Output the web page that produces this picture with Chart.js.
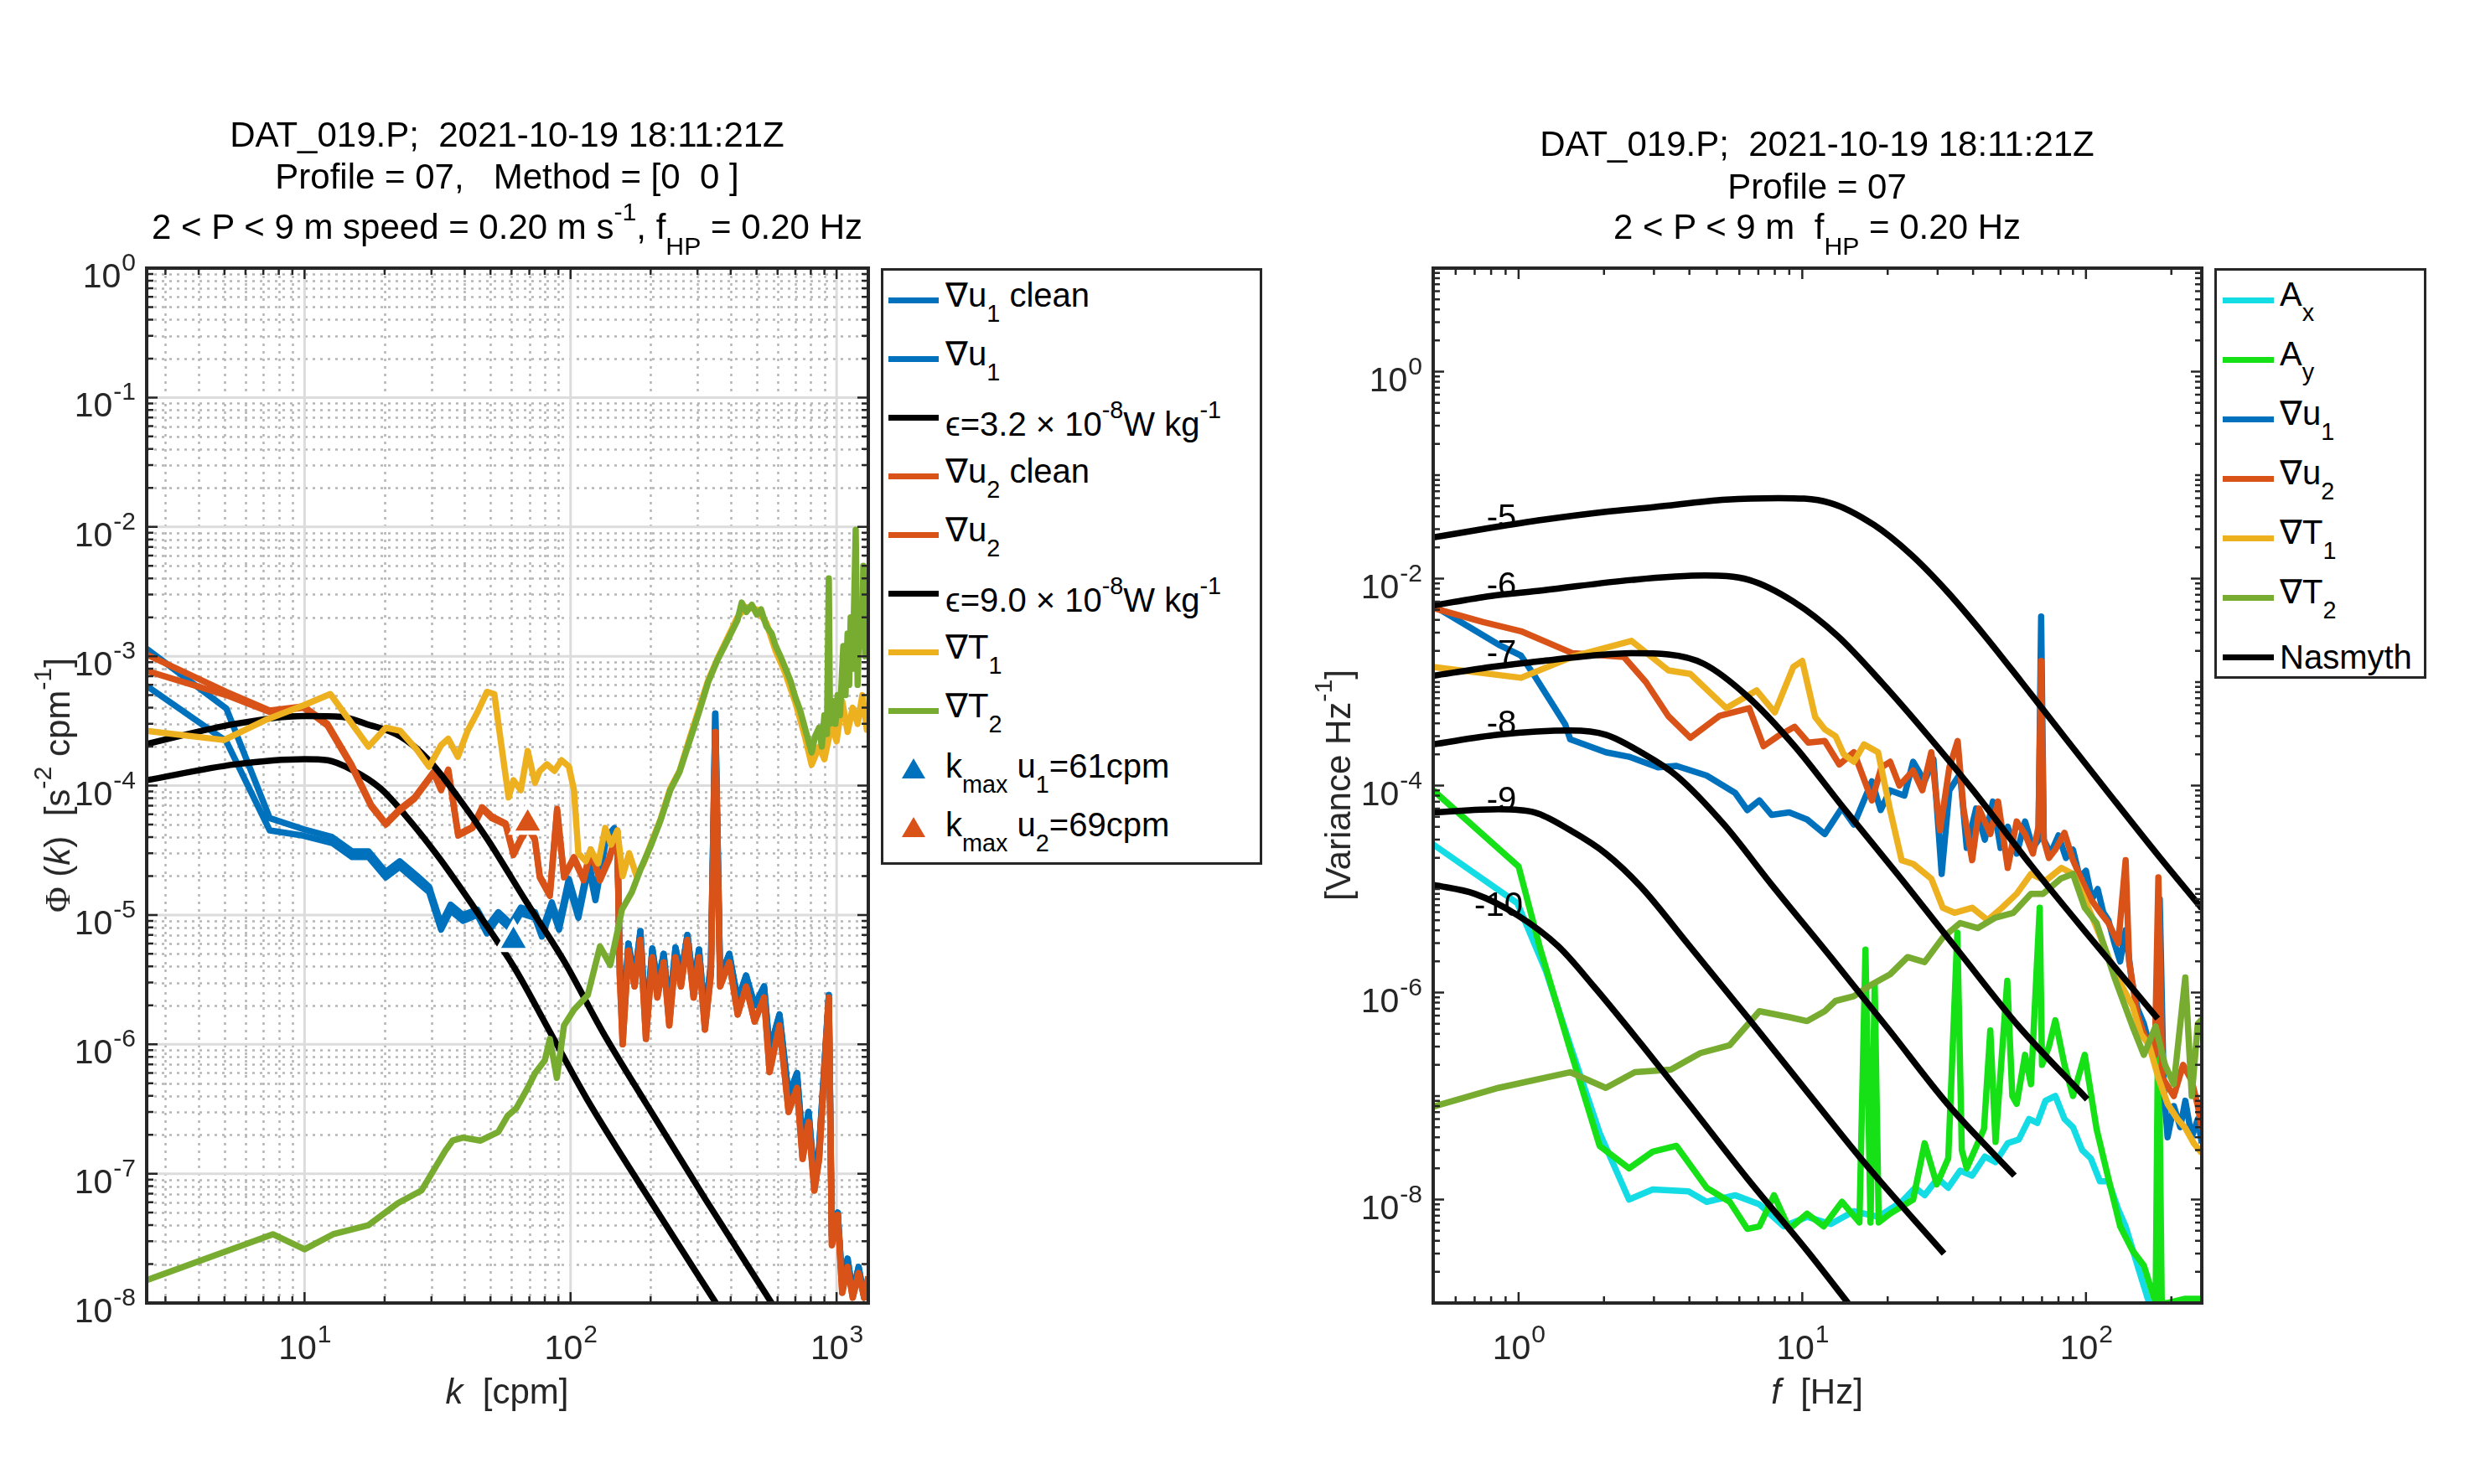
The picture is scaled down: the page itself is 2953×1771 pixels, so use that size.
<!DOCTYPE html>
<html lang="en">
<head>
<meta charset="utf-8">
<title>DAT_019.P profile 07 spectra</title>
<script src="https://cdn.jsdelivr.net/npm/chart.js@4.4.1/dist/chart.umd.min.js"></script>
<style>
  html, body { margin: 0; padding: 0; background: #fff; }
  body { position: relative; width: 2953px; height: 1771px; overflow: hidden;
         font-family: "Liberation Sans", Arial, Helvetica, sans-serif; color: #000; }
  canvas { position: absolute; top: 0; }
  #leftChart { left: 0; }
  #rightChart { left: 1560px; }
  .lbl { position: absolute; white-space: pre; line-height: 50px; height: 50px; }
  .ttl { font-size: 42px; transform: translateX(-50%); }
  .xlab { font-size: 42px; color: #262626; transform: translateX(-50%); }
  .ylab { font-size: 42px; color: #262626; transform: translate(-50%, -50%) rotate(-90deg); }
  sup, sub { font-size: 0.72em; line-height: 0; vertical-align: baseline; position: relative; }
  sup { top: -0.72em; }
  sub { top: 0.64em; }
  .phi { font-family: "Liberation Serif", "DejaVu Serif", serif; }
  .legend { position: absolute; box-sizing: border-box; border: 3px solid #262626; background: #fff; }
  .swatch { position: absolute; height: 7px; }
  .entry { position: absolute; font-size: 40px; line-height: 50px; white-space: pre; }
  .tri { position: absolute; width: 0; height: 0; border-left: 14px solid transparent;
         border-right: 14px solid transparent; border-bottom: 24px solid #000; }
</style>
</head>
<body>
<canvas id="leftChart" width="1050" height="1771" style="width:1050px;height:1771px"></canvas>
<canvas id="rightChart" width="1080" height="1771" style="width:1080px;height:1771px"></canvas>

<div class="lbl ttl" style="left:605px;top:136px">DAT_019.P;  2021-10-19 18:11:21Z</div>
<div class="lbl ttl" style="left:605px;top:186px">Profile = 07,   Method = [0  0 ]</div>
<div class="lbl ttl" style="left:605px;top:246px">2 &lt; P &lt; 9 m speed = 0.20 m s<sup>-1</sup>, f<sub>HP</sub> = 0.20 Hz</div>

<div class="lbl ttl" style="left:2168px;top:147px">DAT_019.P;  2021-10-19 18:11:21Z</div>
<div class="lbl ttl" style="left:2168px;top:198px">Profile = 07</div>
<div class="lbl ttl" style="left:2168px;top:246px">2 &lt; P &lt; 9 m  f<sub>HP</sub> = 0.20 Hz</div>

<div class="lbl xlab" style="left:605px;top:1636px"><i>k</i>  [cpm]</div>
<div class="lbl xlab" style="left:2168px;top:1636px"><i>f</i>  [Hz]</div>
<div class="lbl ylab" style="left:69px;top:937px"><span class="phi">Φ</span> (<i>k</i>)  [s<sup>-2</sup> cpm<sup>-1</sup>]</div>
<div class="lbl ylab" style="left:1597px;top:937px">[Variance Hz<sup>-1</sup>]</div>

<div id="leftLegend" class="legend"></div>
<div id="rightLegend" class="legend"></div>

<script>
// ---------- left panel: shear / temperature-gradient spectra vs wavenumber ----------
const kU1Low = [2.55, 5.08, 7.4, 9.9, 12.7, 15.1, 17.4, 20.2, 22.8, 26.5, 29.4, 32.6, 35.4, 39.4, 44.6,
  48.5, 53.5, 59.7, 65, 73.5, 78, 85, 90.5, 98.5, 107, 117, 124, 135, 146, 150];
const u1RawLow = [1.14e-3, 3.95e-4, 5.6e-5, 4.6e-5, 4.0e-5, 3.1e-5, 3.1e-5, 2.15e-5, 2.6e-5, 2.0e-5,
  1.65e-5, 8.5e-6, 1.2e-5, 1.0e-5, 1.1e-5, 8.0e-6, 1.05e-5, 8.5e-6, 1.14e-5, 1.05e-5, 7.5e-6, 1.25e-5,
  8.5e-6, 1.9e-5, 1.05e-5, 2.6e-5, 1.45e-5, 3.9e-5, 4.7e-5, 3.5e-5];
const u1CleanLow = [5.9e-4, 2.2e-4, 4.5e-5, 4.1e-5, 3.6e-5, 2.8e-5, 2.8e-5, 1.95e-5, 2.35e-5, 1.8e-5,
  1.5e-5, 7.7e-6, 1.08e-5, 9e-6, 1.0e-5, 7.2e-6, 9.5e-6, 7.7e-6, 1.03e-5, 9.5e-6, 6.8e-6, 1.13e-5,
  7.7e-6, 1.7e-5, 9.5e-6, 2.35e-5, 1.3e-5, 3.5e-5, 4.2e-5, 3.2e-5];

const kU2Low = [2.55, 5.08, 7.4, 9.9, 12.2, 15.0, 17.8, 20.2, 22.8, 25.9, 30.6, 32.6, 34.7, 37.8, 42.8,
  46.5, 50.5, 57, 61, 65, 69, 73.4, 76.6, 83.6, 89, 94.5, 103, 112, 119, 129, 140, 150];
const u2RawLow = [1.03e-3, 5.3e-4, 3.8e-4, 4.1e-4, 3.0e-4, 1.46e-4, 7.1e-5, 5.1e-5, 6.6e-5, 8.1e-5,
  1.28e-4, 9.5e-5, 1.33e-4, 4.2e-5, 4.8e-5, 6.8e-5, 5.8e-5, 5.1e-5, 3.0e-5, 3.9e-5, 4.8e-5, 3.9e-5,
  2.0e-5, 1.45e-5, 6.6e-5, 2.0e-5, 2.8e-5, 1.9e-5, 3.2e-5, 1.9e-5, 2.8e-5, 4.5e-5];
const u2CleanLow = [7.7e-4, 5.0e-4, 3.7e-4, 4.0e-4, 2.9e-4, 1.42e-4, 6.9e-5, 5.0e-5, 6.4e-5, 7.9e-5,
  1.25e-4, 9.2e-5, 1.3e-4, 4.1e-5, 4.7e-5, 6.6e-5, 5.6e-5, 5.0e-5, 2.9e-5, 3.8e-5, 4.7e-5, 3.8e-5,
  1.95e-5, 1.4e-5, 6.4e-5, 1.95e-5, 2.7e-5, 1.85e-5, 3.1e-5, 1.85e-5, 2.7e-5, 4.4e-5];

// high wavenumber part, where clean and raw spectra lie on top of each other
const kTail = [153, 157, 165, 174, 183, 192, 203, 212, 224, 235, 248, 260, 275, 290, 304, 320, 337,
  350, 365, 395, 425, 457, 492, 534, 560, 610, 660, 710, 745, 785, 825, 860, 935, 960, 1010, 1050,
  1100, 1150, 1210, 1270, 1316];
const u1Tail = [4.5e-6, 1.3e-6, 6e-6, 3.2e-6, 7.5e-6, 1.4e-6, 5.5e-6, 2.9e-6, 5e-6, 1.8e-6, 5.6e-6,
  3.4e-6, 7e-6, 2.8e-6, 5.4e-6, 1.6e-6, 4.2e-6, 3.6e-4, 3.3e-6, 5e-6, 2.2e-6, 3.4e-6, 2.0e-6, 2.8e-6,
  9e-7, 1.7e-6, 4e-7, 6e-7, 1.7e-7, 3e-7, 9e-8, 1.6e-7, 2.4e-6, 3.3e-8, 5e-8, 1.4e-8, 2.2e-8, 1.2e-8,
  1.9e-8, 1.1e-8, 1.5e-8];
const u2Tail = [3.5e-6, 1.0e-6, 5.3e-6, 2.8e-6, 6.4e-6, 1.1e-6, 4.7e-6, 2.3e-6, 4.3e-6, 1.4e-6, 4.7e-6,
  2.8e-6, 6.4e-6, 2.3e-6, 4.7e-6, 1.3e-6, 3.5e-6, 2.6e-4, 2.8e-6, 4.3e-6, 1.7e-6, 2.8e-6, 1.5e-6, 2.3e-6,
  6.1e-7, 1.4e-6, 3e-7, 4.6e-7, 1.3e-7, 2.5e-7, 7.4e-8, 1.3e-7, 2.3e-6, 2.8e-8, 4.8e-8, 1.2e-8, 1.9e-8,
  1.1e-8, 1.7e-8, 1.1e-8, 1.6e-8];

const kT1 = [2.55, 4.98, 7.1, 10, 12.5, 17.4, 20.2, 22.9, 26.4, 29.4, 32.6, 34.7, 37.7, 41, 44.7, 48.5,
  51.7, 53.8, 58.5, 61, 65, 69, 73.5, 76.6, 81.5, 87, 92.5, 98.6, 103, 107, 114, 119, 127, 135, 142, 150,
  157, 166, 177, 188, 200, 218, 237, 257, 280, 304, 329, 357, 387, 424, 458, 502, 545, 590, 640, 700,
  760, 806, 860, 900, 960, 1000, 1050, 1100, 1150, 1200, 1250, 1300, 1316];
const t1Spec = [2.65e-4, 2.25e-4, 3.2e-4, 4.2e-4, 5.1e-4, 2.0e-4, 2.8e-4, 2.65e-4, 1.9e-4, 1.4e-4,
  2.05e-4, 2.3e-4, 1.67e-4, 2.65e-4, 3.7e-4, 5.3e-4, 5.1e-4, 2.8e-4, 8.1e-5, 1.1e-4, 9.2e-5, 1.85e-4,
  1.05e-4, 1.3e-4, 1.46e-4, 1.3e-4, 1.57e-4, 1.4e-4, 9.2e-5, 3.0e-5, 2.6e-5, 3.2e-5, 2.5e-5, 4.7e-5,
  3.5e-5, 4.5e-5, 2.0e-5, 3.0e-5, 2.0e-5, 2.5e-5, 3.5e-5, 5.5e-5, 9.5e-5, 1.3e-4, 2.3e-4, 3.9e-4,
  6.5e-4, 9.6e-4, 1.35e-3, 2.0e-3, 2.4e-3, 2.3e-3, 1.8e-3, 1.1e-3, 7.5e-4, 4.4e-4, 2.4e-4, 1.45e-4,
  2.0e-4, 1.6e-4, 3.0e-4, 2.2e-4, 4.5e-4, 2.6e-4, 4.0e-4, 3.0e-4, 5.0e-4, 2.7e-4, 3.0e-4];

const kT2 = [2.55, 7.6, 10, 12.8, 17.4, 22.4, 27.5, 33.8, 36, 39.4, 45.9, 53.5, 58, 62.5, 69, 73.6, 80,
  83.6, 88.8, 94.5, 103, 116, 129, 141, 150, 156, 170, 184, 200, 218, 237, 257, 280, 304, 329, 357, 387,
  424, 440, 458, 480, 502, 520, 545, 570, 590, 615, 640, 670, 700, 730, 760, 785, 806, 830, 860, 880,
  900, 920, 935, 945, 970, 990, 1010, 1030, 1060, 1080, 1100, 1115, 1130, 1150, 1180, 1200, 1220, 1250,
  1260, 1280, 1300, 1316];
const t2Spec = [1.5e-8, 3.4e-8, 2.6e-8, 3.4e-8, 4e-8, 5.9e-8, 7.4e-8, 1.5e-7, 1.8e-7, 1.9e-7, 1.8e-7,
  2.1e-7, 2.8e-7, 3.2e-7, 4.6e-7, 6e-7, 7.5e-7, 1.1e-6, 5.5e-7, 1.4e-6, 1.85e-6, 2.4e-6, 5.7e-6, 4.1e-6,
  7.4e-6, 1.1e-5, 1.5e-5, 2.3e-5, 3.4e-5, 5.4e-5, 9.2e-5, 1.28e-4, 2.2e-4, 3.7e-4, 6.3e-4, 9.4e-4,
  1.3e-3, 1.9e-3, 2.6e-3, 2.2e-3, 2.5e-3, 2.1e-3, 2.3e-3, 1.7e-3, 1.5e-3, 1.2e-3, 1.0e-3, 8.2e-4,
  6.5e-4, 4.8e-4, 3.8e-4, 2.8e-4, 2.2e-4, 1.8e-4, 2.4e-4, 2.8e-4, 2.0e-4, 3.5e-4, 2.5e-4, 4e-3, 3e-4,
  4.5e-4, 3e-4, 5e-4, 3.5e-4, 1.2e-3, 5e-4, 1.5e-3, 6e-4, 2e-3, 8e-4, 9.5e-3, 6e-4, 2.5e-3, 1.2e-3,
  5e-3, 1e-3, 2e-3, 1.5e-3];

// Nasmyth reference spectra
const kEps32 = [2.55, 5.5, 10, 12.2, 15, 19.3, 24.8, 31.9, 44.6, 62, 83.6, 115, 192, 352];
const eps32Spec = [1.1e-4, 1.46e-4, 1.6e-4, 1.57e-4, 1.33e-4, 9.5e-5, 5.4e-5, 2.8e-5, 1.05e-5, 3.8e-6,
  1.25e-6, 3.8e-7, 7e-8, 1e-8];
const kEps90 = [2.55, 5.5, 10, 13.8, 17, 22.9, 29.4, 37.8, 48.5, 67.6, 94.5, 132, 192, 322, 570];
const eps90Spec = [2.1e-4, 3.0e-4, 3.45e-4, 3.4e-4, 3.0e-4, 2.4e-4, 1.56e-4, 8.1e-5, 3.9e-5, 1.3e-5,
  4.4e-6, 1.25e-6, 3.5e-7, 6.3e-8, 1e-8];

const kMax = [61, 69];
const kMaxLevel = [6.3e-6, 5.1e-5];

// ---------- right panel: frequency spectra ----------
const fAx = [0.5, 0.99, 1.25, 1.52, 1.93, 2.45, 2.97, 3.97, 4.6, 5.8, 7.06, 8.6, 10.4, 12.6, 15.2, 18.5,
  22.4, 25, 27, 30, 32.7, 36, 39.7, 44, 48, 53, 58, 63, 67.4, 72, 78, 84, 90, 97, 104, 112, 120, 130,
  138, 152, 167, 180];
const axSpec = [2.7e-5, 7.3e-6, 1.6e-6, 3.1e-7, 4.4e-8, 1e-8, 1.25e-8, 1.2e-8, 9.5e-9, 1.1e-8, 9e-9,
  5.5e-9, 6.8e-9, 5.8e-9, 7.7e-9, 6.8e-9, 9.5e-9, 1.3e-8, 1.1e-8, 1.6e-8, 1.3e-8, 1.9e-8, 1.7e-8,
  2.6e-8, 2.3e-8, 3.5e-8, 3.8e-8, 6e-8, 5.5e-8, 9e-8, 1e-7, 6e-8, 5e-8, 3e-8, 2.5e-8, 1.5e-8, 1.5e-8,
  8e-9, 5.5e-9, 2.3e-9, 1e-9, 6e-10];

const fAy = [0.5, 1.0, 1.19, 1.52, 1.93, 2.45, 2.97, 3.6, 4.6, 5.55, 6.4, 7.06, 7.95, 9, 10.4, 11.9,
  13.8, 15.9, 16.7, 17.4, 18, 18.6, 20.4, 24.6, 27, 29.8, 32.7, 35.2, 36.5, 38, 43.7, 46, 48, 52.8, 55,
  57, 61, 64, 68.7, 70, 74, 78, 84, 90, 99, 109, 120, 132, 146, 160, 176, 180, 185, 194, 224, 256];
const aySpec = [9e-5, 1.65e-5, 2.7e-6, 2.8e-7, 3.3e-8, 2e-8, 2.9e-8, 3.3e-8, 1.3e-8, 9.5e-9, 5.2e-9,
  5.5e-9, 1.1e-8, 5.2e-9, 7.3e-9, 5.5e-9, 9.5e-9, 6e-9, 2.6e-6, 6e-9, 1.2e-6, 6e-9, 7.3e-9, 1e-8,
  3.5e-8, 1.4e-8, 2.5e-8, 3.8e-6, 3e-8, 2e-8, 4.8e-8, 4.3e-7, 3.6e-8, 1.3e-6, 1e-7, 8.4e-8, 2.5e-7,
  1.3e-7, 6.6e-6, 2e-7, 3e-7, 5.4e-7, 2e-7, 1e-7, 2.5e-7, 4.8e-8, 1.6e-8, 5.5e-9, 3.2e-9, 2.3e-9, 1e-9,
  9.3e-7, 1e-9, 1e-9, 1.1e-9, 1.1e-9];

const fU1 = [0.5, 0.85, 1.02, 1.15, 1.46, 1.52, 2.03, 2.45, 3.1, 3.6, 4.6, 5.8, 6.4, 7.06, 7.8, 9, 10.4,
  12, 13.8, 15.2, 17.6, 18.9, 20.4, 22.9, 24.6, 27, 29, 31, 33, 36, 38, 41, 44, 47, 50, 53, 57, 61, 65,
  68, 69.5, 71, 75, 80, 85, 90, 95, 100, 105, 110, 115, 120, 126, 132, 138, 145, 152, 160, 168, 175,
  182, 188, 194, 204, 215, 224, 236, 248, 256];
const gradU1 = [5.5e-3, 2.3e-3, 1.8e-3, 1.1e-3, 3.9e-4, 2.8e-4, 2.1e-4, 1.9e-4, 1.5e-4, 1.55e-4,
  1.25e-4, 8.5e-5, 5.8e-5, 7.2e-5, 5.2e-5, 5.5e-5, 4.7e-5, 3.4e-5, 6.1e-5, 4.2e-5, 1.1e-4, 5.8e-5,
  9e-5, 8e-5, 1.7e-4, 1.1e-4, 1.8e-4, 1.4e-5, 9e-5, 1.3e-4, 2.5e-5, 6e-5, 3e-5, 7e-5, 2.5e-5, 4e-5,
  2.2e-5, 4.5e-5, 2.5e-5, 3e-5, 4.3e-3, 3e-5, 2.2e-5, 3.3e-5, 2e-5, 2.4e-5, 1.3e-5, 1.5e-5, 8e-6,
  1e-5, 6e-6, 5e-6, 3e-6, 2e-6, 4e-6, 1.3e-6, 7e-7, 5e-7, 3e-7, 2.5e-7, 8e-6, 1.2e-7, 4e-8, 8e-8,
  5e-8, 9e-8, 4e-8, 6e-8, 3.5e-8];

const fU2 = [0.5, 0.75, 1.02, 1.55, 2.35, 2.81, 3.37, 4.03, 5.1, 6.5, 7.3, 8.2, 9.4, 10.5, 12, 13.5,
  15.2, 17.6, 19, 20.4, 22, 24.6, 26.5, 28.5, 30.6, 33, 35.3, 37, 39.7, 42, 46, 49, 53, 57, 61, 65, 68,
  69.5, 71, 74, 78, 84, 90, 97, 104, 112, 120, 130, 138, 142, 152, 160, 175, 180, 186, 204, 220, 236,
  248, 256];
const gradU2 = [5.2e-3, 3.8e-3, 3.1e-3, 1.9e-3, 1.75e-3, 1e-3, 4.7e-4, 2.9e-4, 4.7e-4, 5.6e-4, 2.4e-4,
  3.0e-4, 3.7e-4, 2.6e-4, 2.7e-4, 1.6e-4, 2.1e-4, 7.2e-5, 1.5e-4, 1.7e-4, 1.0e-4, 1.4e-4, 9e-5, 2.1e-4,
  3.7e-5, 1.5e-4, 2.7e-4, 6e-5, 1.9e-5, 6e-5, 3.4e-5, 7e-5, 1.6e-5, 4.5e-5, 3.4e-5, 2.2e-5, 4e-5,
  1.6e-3, 3e-5, 2e-5, 2.4e-5, 3.5e-5, 1.9e-5, 1.2e-5, 8e-6, 6e-6, 4.7e-6, 3e-6, 1.9e-5, 2e-6, 6e-7,
  4e-7, 2.5e-7, 1.3e-5, 1.5e-7, 1e-7, 2e-7, 1.4e-7, 8e-8, 4.8e-8];

const fT1 = [0.5, 1.02, 1.55, 2.5, 3.37, 4.03, 5.4, 6.9, 8.0, 9.3, 10, 11.1, 12, 13.1, 14, 15.2, 16.5,
  18.5, 20.4, 22.4, 24.6, 28.5, 31.3, 34.4, 39.7, 45, 50.6, 57, 64, 72, 82, 90, 99, 110, 120, 133, 146,
  156, 167, 180, 194, 210, 224, 240, 256];
const gradT1 = [1.4e-3, 1.1e-3, 1.76e-3, 2.5e-3, 1.3e-3, 1.2e-3, 5.6e-4, 8.3e-4, 5.1e-4, 1.4e-3,
  1.6e-3, 4.6e-4, 3.5e-4, 3e-4, 2e-4, 1.7e-4, 2.5e-4, 2.1e-4, 5.8e-5, 1.9e-5, 1.75e-5, 1.26e-5, 6.6e-6,
  5.9e-6, 6.6e-6, 5e-6, 6.6e-6, 9e-6, 1.4e-5, 1.2e-5, 1.6e-5, 1.4e-5, 8e-6, 4e-6, 2.2e-6, 1.2e-6,
  7.4e-7, 4e-7, 3.1e-7, 1.5e-7, 8.4e-8, 6e-8, 4.9e-8, 3.5e-8, 2.8e-8];

const fT2 = [0.5, 0.85, 1.52, 2.03, 2.57, 3.44, 4.37, 5.55, 7.06, 8.97, 10.4, 12.0, 13.1, 15.2, 17.6,
  20.4, 23.5, 27, 31.3, 36, 41.6, 48, 55.5, 64, 70.6, 81.5, 90, 99, 109, 126, 146, 160, 176, 190, 204,
  224, 236, 248, 256];
const gradT2 = [7.9e-8, 1.2e-7, 1.7e-7, 1.2e-7, 1.7e-7, 1.8e-7, 2.6e-7, 3.1e-7, 6.6e-7, 5.8e-7, 5.3e-7,
  6.6e-7, 8.3e-7, 9.2e-7, 1.2e-6, 1.5e-6, 2.2e-6, 1.97e-6, 3.4e-6, 4.7e-6, 4.2e-6, 5.3e-6, 5.9e-6, 9e-6,
  9e-6, 1.26e-5, 1.4e-5, 6.6e-6, 4.7e-6, 1.4e-6, 4.7e-7, 2.5e-7, 4.7e-7, 2e-7, 1.3e-7, 1.4e-6, 1e-7,
  5e-7, 5.5e-7];

// Nasmyth curves for log10(epsilon) = -5 ... -10
const fN5 = [0.5, 0.8, 1.22, 2, 2.99, 5.4, 8.26, 12.5, 17.9, 24.2, 32.7, 44, 59.3, 80, 120, 180, 256];
const nas5 = [0.025, 0.031, 0.037, 0.044, 0.049, 0.058, 0.060, 0.054, 0.033, 0.017, 7.3e-3, 2.8e-3,
  1e-3, 3.5e-4, 8.5e-5, 2.1e-5, 6.5e-6];
const fN6 = [0.5, 0.8, 1.22, 2.5, 4.54, 6.5, 9.3, 13.3, 19, 27.3, 40, 64, 100, 179];
const nas6 = [5.5e-3, 6.8e-3, 7.7e-3, 9.7e-3, 0.0107, 9.7e-3, 6.0e-3, 2.8e-3, 1e-3, 3.2e-4, 9e-5,
  1.7e-5, 3.8e-6, 5.6e-7];
const fN7 = [0.5, 0.8, 1.22, 1.8, 2.5, 3.37, 4.5, 6.4, 9.4, 13.9, 22.4, 36, 58, 101];
const nas7 = [1.15e-3, 1.4e-3, 1.6e-3, 1.8e-3, 1.9e-3, 1.85e-3, 1.5e-3, 7.3e-4, 2.4e-4, 6.2e-5,
  1.24e-5, 2.4e-6, 4.7e-7, 9.3e-8];
const fN8 = [0.5, 0.85, 1.52, 2.03, 2.7, 3.6, 5.3, 7.8, 12.6, 20.3, 32.6, 56];
const nas8 = [2.5e-4, 3.1e-4, 3.4e-4, 3.1e-4, 2.1e-4, 1.25e-4, 4.2e-5, 1.1e-5, 2.2e-6, 4.3e-7, 8.3e-8,
  1.7e-8];
const fN9 = [0.5, 0.85, 1.14, 1.52, 2.03, 2.7, 3.97, 6.4, 10.4, 16.7, 31.6];
const nas9 = [5.5e-5, 5.9e-5, 5.5e-5, 3.7e-5, 2.2e-5, 1.05e-5, 2.9e-6, 5.8e-7, 1.1e-7, 2.2e-8, 3e-9];
const fN10 = [0.5, 0.7, 0.99, 1.38, 1.84, 2.7, 3.97, 6.4, 10.4, 14.5];
const nas10 = [1.1e-5, 9e-6, 5.6e-6, 2.8e-6, 1.15e-6, 3.2e-7, 8.5e-8, 1.6e-8, 3.2e-9, 1e-9];

const nasLabels = ['-5', '-6', '-7', '-8', '-9', '-10'];
const nasLabelF = [0.87, 0.87, 0.87, 0.87, 0.87, 0.85];
const nasLabelY = [0.040, 8.9e-3, 1.96e-3, 4.1e-4, 7.5e-5, 7.1e-6];

// ---------- styling ----------
const BLUE = '#0072BD', ORANGE = '#D95319', YELLOW = '#EDB120', GREEN = '#77AC30';
const CYAN = '#14DCE4', LIME = '#16E016', BLACK = '#000000';
const FONT = '"Liberation Sans", Arial, Helvetica, sans-serif';
const AXIS_COLOR = '#262626';

function logSteps(min, max) {
  const out = [];
  for (let n = Math.floor(Math.log10(min)); n <= Math.ceil(Math.log10(max)); n++) {
    for (let m = 1; m <= 9; m++) {
      const v = Number((m * Math.pow(10, n)).toPrecision(6));
      if (v >= min * 0.9999 && v <= max * 1.0001) out.push({ v, n, major: m === 1 });
    }
  }
  return out;
}

function drawPow(ctx, n, px, base, align) {
  const exp = String(n);
  ctx.font = '41px ' + FONT;
  const w1 = ctx.measureText('10').width;
  ctx.font = '30px ' + FONT;
  const w2 = ctx.measureText(exp).width;
  const start = align === 'center' ? px - (w1 + w2) / 2 : px - (w1 + w2);
  ctx.textAlign = 'left';
  ctx.textBaseline = 'alphabetic';
  ctx.font = '41px ' + FONT;
  ctx.fillText('10', start, base);
  ctx.font = '30px ' + FONT;
  ctx.fillText(exp, start + w1 + 1, base - 20);
}

// MATLAB-like frame: grid, inward ticks on all sides, box, 10^n labels, notes
const matlabAxes = {
  id: 'matlabAxes',
  beforeDatasetsDraw(chart, args, o) {
    if (!o.grid) return;
    const { ctx, chartArea: a, scales: { x, y } } = chart;
    const xs = logSteps(x.min, x.max), ys = logSteps(y.min, y.max);
    ctx.save();
    ctx.beginPath();
    ctx.rect(a.left, a.top, a.right - a.left, a.bottom - a.top);
    ctx.clip();
    ctx.lineWidth = 2.5;
    ctx.strokeStyle = 'rgba(120,120,120,0.55)';
    ctx.setLineDash([3, 6]);
    ctx.beginPath();
    xs.filter(t => !t.major).forEach(t => {
      const px = Math.round(x.getPixelForValue(t.v)) + 0.5;
      ctx.moveTo(px, a.top); ctx.lineTo(px, a.bottom);
    });
    ys.filter(t => !t.major).forEach(t => {
      const py = Math.round(y.getPixelForValue(t.v)) + 0.5;
      ctx.moveTo(a.left, py); ctx.lineTo(a.right, py);
    });
    ctx.stroke();
    ctx.setLineDash([]);
    ctx.lineWidth = 3;
    ctx.strokeStyle = '#dcdcdc';
    ctx.beginPath();
    xs.filter(t => t.major).forEach(t => {
      const px = x.getPixelForValue(t.v);
      ctx.moveTo(px, a.top); ctx.lineTo(px, a.bottom);
    });
    ys.filter(t => t.major).forEach(t => {
      const py = y.getPixelForValue(t.v);
      ctx.moveTo(a.left, py); ctx.lineTo(a.right, py);
    });
    ctx.stroke();
    ctx.restore();
  },
  afterDatasetsDraw(chart, args, o) {
    const { ctx, chartArea: a, scales: { x, y } } = chart;
    ctx.save();
    ctx.strokeStyle = AXIS_COLOR;
    ctx.lineWidth = 2.5;
    ctx.beginPath();
    logSteps(x.min, x.max).forEach(t => {
      const len = t.major && o.xLabels.includes(t.n) ? 13 : 8;
      const px = x.getPixelForValue(t.v);
      ctx.moveTo(px, a.bottom); ctx.lineTo(px, a.bottom - len);
      ctx.moveTo(px, a.top); ctx.lineTo(px, a.top + len);
    });
    logSteps(y.min, y.max).forEach(t => {
      const len = t.major && o.yLabels.includes(t.n) ? 13 : 8;
      const py = y.getPixelForValue(t.v);
      ctx.moveTo(a.left, py); ctx.lineTo(a.left + len, py);
      ctx.moveTo(a.right, py); ctx.lineTo(a.right - len, py);
    });
    ctx.stroke();
    ctx.lineWidth = 4;
    ctx.strokeRect(a.left, a.top, a.right - a.left, a.bottom - a.top);

    ctx.fillStyle = AXIS_COLOR;
    o.xLabels.forEach(n => drawPow(ctx, n, x.getPixelForValue(Math.pow(10, n)), a.bottom + 67, 'center'));
    o.yLabels.forEach(n => drawPow(ctx, n, a.left - 14, y.getPixelForValue(Math.pow(10, n)) + 23, 'right'));

    if (o.notes) {
      ctx.fillStyle = BLACK;
      ctx.font = '40px ' + FONT;
      ctx.textAlign = 'center';
      ctx.textBaseline = 'alphabetic';
      o.notes.text.forEach((txt, i) => {
        ctx.fillText(txt, x.getPixelForValue(o.notes.x[i]), y.getPixelForValue(o.notes.y[i]) + 14);
      });
    }
    ctx.restore();
  }
};

function lineSet(label, xs, ys, color, idx, smooth) {
  return {
    label,
    data: xs.map((v, i) => ({ x: v, y: ys[i] })),
    showLine: true,
    borderColor: color,
    backgroundColor: color,
    borderWidth: 7.5,
    pointRadius: 0,
    pointHoverRadius: 0,
    pointHitRadius: 0,
    borderJoinStyle: 'round',
    cubicInterpolationMode: smooth ? 'monotone' : 'default',
    tension: 0,
    clip: 0,
    order: -idx
  };
}

function markSet(label, x, y, color, idx) {
  return {
    label,
    data: [{ x, y }],
    showLine: false,
    pointStyle: 'triangle',
    pointRadius: 22,
    pointHoverRadius: 22,
    backgroundColor: color,
    borderColor: '#ffffff',
    borderWidth: 5,
    clip: 0,
    order: -idx
  };
}

function chartOptions(xRange, yRange, padding, frame) {
  return {
    responsive: false,
    animation: false,
    devicePixelRatio: 1,
    events: [],
    layout: { autoPadding: false, padding },
    plugins: { legend: { display: false }, tooltip: { enabled: false }, matlabAxes: frame },
    scales: {
      x: { type: 'logarithmic', min: xRange[0], max: xRange[1], display: false },
      y: { type: 'logarithmic', min: yRange[0], max: yRange[1], display: false }
    }
  };
}

const leftSets = [
  lineSet('∇u1 clean', kU1Low.concat(kTail), u1CleanLow.concat(u1Tail), BLUE, 0),
  lineSet('∇u1', kU1Low.concat(kTail), u1RawLow.concat(u1Tail), BLUE, 1),
  lineSet('eps 3.2e-8', kEps32, eps32Spec, BLACK, 2, true),
  lineSet('∇u2 clean', kU2Low.concat(kTail), u2CleanLow.concat(u2Tail), ORANGE, 3),
  lineSet('∇u2', kU2Low.concat(kTail), u2RawLow.concat(u2Tail), ORANGE, 4),
  lineSet('eps 9.0e-8', kEps90, eps90Spec, BLACK, 5, true),
  lineSet('∇T1', kT1, t1Spec, YELLOW, 6),
  lineSet('∇T2', kT2, t2Spec, GREEN, 7),
  markSet('kmax u1', kMax[0], kMaxLevel[0], BLUE, 8),
  markSet('kmax u2', kMax[1], kMaxLevel[1], ORANGE, 9)
];

new Chart(document.getElementById('leftChart'), {
  type: 'scatter',
  data: { datasets: leftSets },
  options: chartOptions([2.55, 1316], [1e-8, 1], { left: 175, top: 320, right: 14, bottom: 216 },
    { grid: true, xLabels: [1, 2, 3], yLabels: [0, -1, -2, -3, -4, -5, -6, -7, -8] }),
  plugins: [matlabAxes]
});

const rightSets = [
  lineSet('Ax', fAx, axSpec, CYAN, 0),
  lineSet('Ay', fAy, aySpec, LIME, 1),
  lineSet('∇u1', fU1, gradU1, BLUE, 2),
  lineSet('∇u2', fU2, gradU2, ORANGE, 3),
  lineSet('∇T1', fT1, gradT1, YELLOW, 4),
  lineSet('∇T2', fT2, gradT2, GREEN, 5),
  lineSet('Nasmyth', fN5, nas5, BLACK, 6, true),
  lineSet('Nasmyth -6', fN6, nas6, BLACK, 7, true),
  lineSet('Nasmyth -7', fN7, nas7, BLACK, 8, true),
  lineSet('Nasmyth -8', fN8, nas8, BLACK, 9, true),
  lineSet('Nasmyth -9', fN9, nas9, BLACK, 10, true),
  lineSet('Nasmyth -10', fN10, nas10, BLACK, 11, true)
];

new Chart(document.getElementById('rightChart'), {
  type: 'scatter',
  data: { datasets: rightSets },
  options: chartOptions([0.5, 256], [1e-9, 10], { left: 150, top: 320, right: 13, bottom: 216 },
    { grid: false, xLabels: [0, 1, 2], yLabels: [0, -2, -4, -6, -8],
      notes: { x: nasLabelF, y: nasLabelY, text: nasLabels } }),
  plugins: [matlabAxes]
});

// ---------- legends (HTML so sub/superscripts stay real text) ----------
function buildLegend(id, box, rows) {
  const el = document.getElementById(id);
  Object.assign(el.style, { left: box.x + 'px', top: box.y + 'px', width: box.w + 'px', height: box.h + 'px' });
  const ox = box.x + 3, oy = box.y + 3;
  rows.forEach((r, i) => {
    const cy = box.row0 + i * box.gap;
    if (r.marker) {
      const m = document.createElement('div');
      m.className = 'tri';
      m.style.left = (box.mark - 14 - ox) + 'px';
      m.style.top = (cy - 13 - oy) + 'px';
      m.style.borderBottomColor = r.color;
      el.appendChild(m);
    } else {
      const s = document.createElement('div');
      s.className = 'swatch';
      s.style.left = (box.sw0 - ox) + 'px';
      s.style.width = (box.sw1 - box.sw0) + 'px';
      s.style.top = (cy - 3.5 - oy) + 'px';
      s.style.background = r.color;
      el.appendChild(s);
    }
    const t = document.createElement('div');
    t.className = 'entry';
    t.innerHTML = r.html;
    t.style.left = (box.text - ox) + 'px';
    t.style.top = (cy + r.dy - 25 - oy) + 'px';
    el.appendChild(t);
  });
}

buildLegend('leftLegend',
  { x: 1051, y: 320, w: 455, h: 712, row0: 358, gap: 70, sw0: 1060, sw1: 1120, mark: 1090, text: 1128 }, [
  { html: '∇u<sub>1</sub> clean', color: BLUE, dy: -6 },
  { html: '∇u<sub>1</sub>', color: BLUE, dy: -6 },
  { html: 'ϵ=3.2 × 10<sup>-8</sup>W kg<sup>-1</sup>', color: BLACK, dy: 8 },
  { html: '∇u<sub>2</sub> clean', color: ORANGE, dy: -6 },
  { html: '∇u<sub>2</sub>', color: ORANGE, dy: -6 },
  { html: 'ϵ=9.0 × 10<sup>-8</sup>W kg<sup>-1</sup>', color: BLACK, dy: 8 },
  { html: '∇T<sub>1</sub>', color: YELLOW, dy: -6 },
  { html: '∇T<sub>2</sub>', color: GREEN, dy: -6 },
  { html: 'k<sub>max</sub> u<sub>1</sub>=61cpm', color: BLUE, dy: -4, marker: true },
  { html: 'k<sub>max</sub> u<sub>2</sub>=69cpm', color: ORANGE, dy: -4, marker: true }
]);

buildLegend('rightLegend',
  { x: 2642, y: 320, w: 253, h: 490, row0: 358, gap: 71, sw0: 2652, sw1: 2713, text: 2720 }, [
  { html: 'A<sub>x</sub>', color: CYAN, dy: -7 },
  { html: 'A<sub>y</sub>', color: LIME, dy: -7 },
  { html: '∇u<sub>1</sub>', color: BLUE, dy: -7 },
  { html: '∇u<sub>2</sub>', color: ORANGE, dy: -7 },
  { html: '∇T<sub>1</sub>', color: YELLOW, dy: -7 },
  { html: '∇T<sub>2</sub>', color: GREEN, dy: -7 },
  { html: 'Nasmyth', color: BLACK, dy: 0 }
]);
</script>
</body>
</html>
